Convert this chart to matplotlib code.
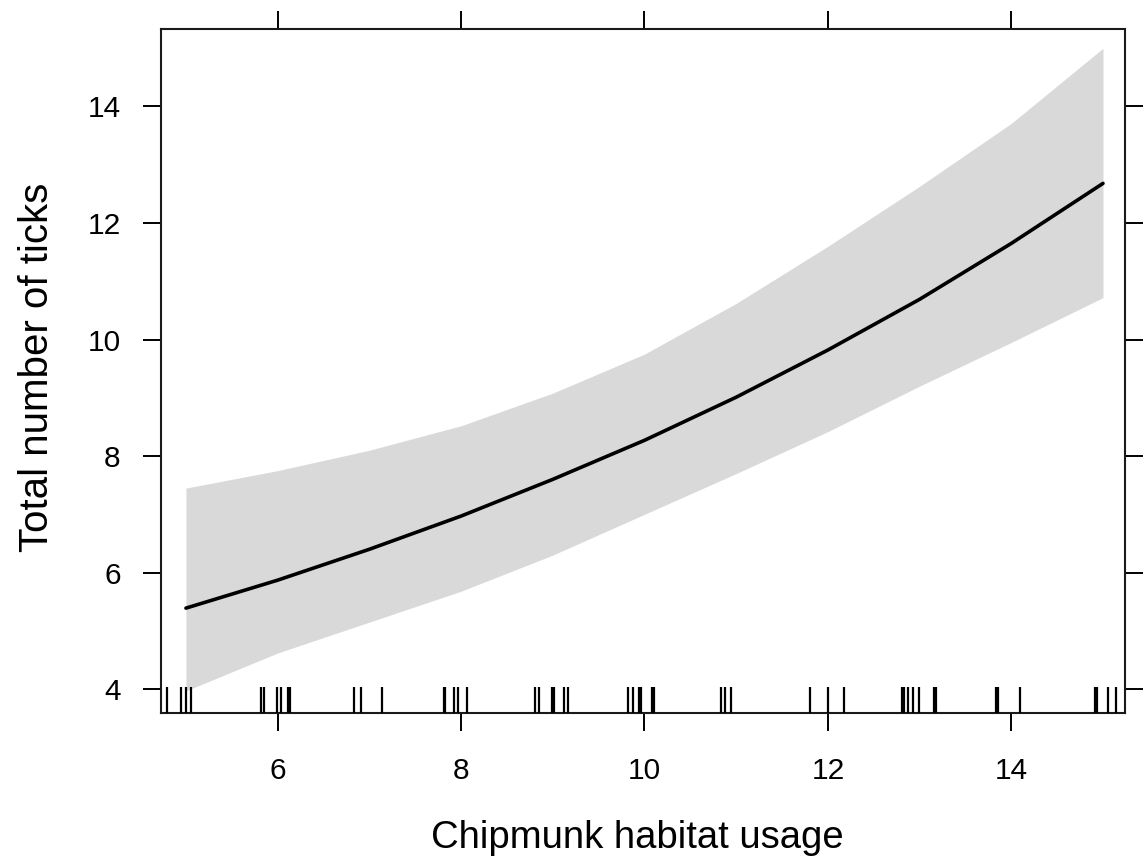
import matplotlib
matplotlib.use("Agg")
import matplotlib.pyplot as plt
import matplotlib.transforms as mtransforms

# Data
x_vals = [5, 6, 7, 8, 9, 10, 11, 12, 13, 14, 15]
fit_vals = [5.39, 5.87, 6.40, 6.97, 7.60, 8.27, 9.01, 9.82, 10.69, 11.65, 12.68]
upper_vals = [7.45, 7.75, 8.10, 8.52, 9.08, 9.75, 10.62, 11.60, 12.63, 13.71, 15.00]
lower_vals = [3.97, 4.62, 5.15, 5.68, 6.30, 7.00, 7.70, 8.42, 9.20, 9.95, 10.72]

rug_x = [4.79, 4.95, 5.00, 5.06, 5.82, 5.85, 5.995, 6.04, 6.11, 6.13,
         6.83, 6.91, 7.14, 7.81, 7.83, 7.92, 7.97, 8.06,
         8.81, 8.85, 8.99, 9.01, 9.12, 9.17, 9.82, 9.87, 9.94, 9.96, 10.08, 10.10,
         10.83, 10.88, 10.94, 11.81, 12.00, 12.18,
         12.81, 12.83, 12.87, 12.93, 12.99, 13.16, 13.18, 13.83, 13.85, 14.09,
         14.91, 14.93, 15.06, 15.14]

x_ticks = [6, 8, 10, 12, 14]
y_ticks = [4, 6, 8, 10, 12, 14]
x_label = "Chipmunk habitat usage"
y_label = "Total number of ticks"

plt.rcParams['font.family'] = ['Liberation Sans', 'DejaVu Sans']

fig = plt.figure(figsize=(11.44, 8.65), dpi=100)
ax = fig.add_axes([161/1144, 1-713/865, (1125-161)/1144, (713-29)/865])

ax.fill_between(x_vals, lower_vals, upper_vals, color='#d9d9d9', linewidth=0, zorder=1)
ax.plot(x_vals, fit_vals, color='black', linewidth=2.6, zorder=3, solid_capstyle='round')

trans = mtransforms.blended_transform_factory(ax.transData, ax.transAxes)
ax.vlines(rug_x, 0, 0.038, transform=trans, color='black', linewidth=1.6, zorder=4)

ax.set_xlim(4.728, 15.24)
ax.set_ylim(3.59, 15.33)

ax.set_xticks(x_ticks)
ax.set_yticks(y_ticks)
ax.set_xticklabels([str(t) for t in x_ticks])
ax.set_yticklabels([str(t) for t in y_ticks])

ax.tick_params(axis='both', which='both', direction='out', length=13, width=1.4,
               labelsize=21.5, color='black', labelcolor='black')
ax.tick_params(axis='x', top=True, labeltop=False, pad=19)
ax.tick_params(axis='y', right=True, labelright=False, pad=16)

for sp in ax.spines.values():
    sp.set_linewidth(1.5)
    sp.set_color('#1a1a1a')

ax.set_xlabel(x_label, fontsize=27.5, color='black')
ax.xaxis.label.set_va('center')
ax.xaxis.set_label_coords(0.494, -0.1827)
ax.set_ylabel(y_label, fontsize=29, color='black')
ax.yaxis.label.set_va('center')
ax.yaxis.set_label_coords(-0.1285, 0.505)

fig.savefig("out.png", dpi=100)
